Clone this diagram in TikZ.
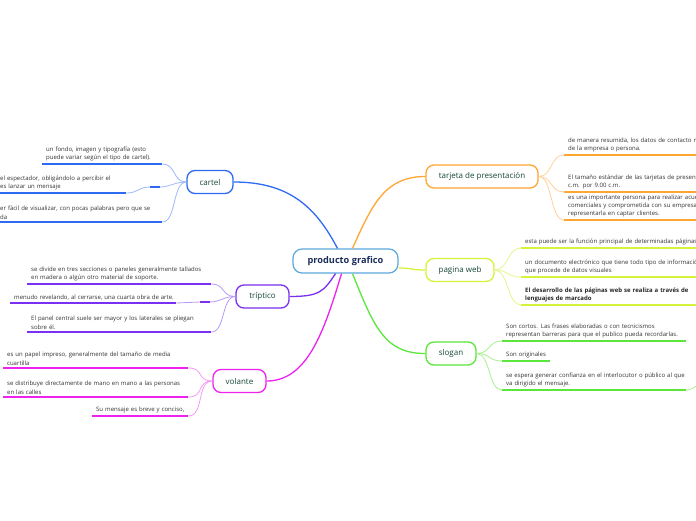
\documentclass[tikz,border=0pt]{standalone}
\usepackage{fontspec}
\setmainfont{Open Sans}
\usetikzlibrary{calc}
\definecolor{cblue}{HTML}{2F6BF2}
\definecolor{cbluel}{HTML}{9DB8FA}
\definecolor{cpurple}{HTML}{7B2FF2}
\definecolor{cpurplel}{HTML}{B79AF8}
\definecolor{cmag}{HTML}{EE22EE}
\definecolor{cmagl}{HTML}{F79AF5}
\definecolor{corange}{HTML}{FFA532}
\definecolor{corangel}{HTML}{FFD29A}
\definecolor{cyel}{HTML}{D6F23A}
\definecolor{cyell}{HTML}{E6F78F}
\definecolor{cgreen}{HTML}{5AE63A}
\definecolor{cgreenl}{HTML}{A8F08F}
\definecolor{ccenter}{HTML}{5AA8DC}
\definecolor{ctext}{HTML}{1B2D5B}
\definecolor{btext}{HTML}{17473A}
\definecolor{ltext}{HTML}{333333}
\newcommand\nbx[1]{\mbox{#1}}
\tikzset{
 centerbox/.style={draw=ccenter, line width=1.2pt, fill=white, rounded corners=9pt, minimum width=105pt, minimum height=24pt, font=\fontsize{9.2}{10}\selectfont\bfseries, text=ctext},
 branch/.style={draw=#1, line width=1.3pt, fill=white, rounded corners=8pt, minimum height=23pt, font=\fontsize{8}{10}\selectfont, text=btext},
 leaf/.style={anchor=south west, align=left, font=\fontsize{6}{8.8}\selectfont, text=ltext, inner xsep=4pt, inner ysep=2.4pt},
 uline/.style={draw=#1, line width=1.8pt},
 mainc/.style={draw=#1, line width=1.3pt},
 subc/.style={draw=#1, line width=0.8pt},
}
\begin{document}
\begin{tikzpicture}[x=1pt,y=-1pt]
\useasboundingbox (0,0) rectangle (696,520);
\clip (0,0) rectangle (696,520);
\fill[white] (0,0) rectangle (696,520);

% ---------- nodes ----------
\node[centerbox] (c) at (345.5,261) {producto grafico};
\node[branch=cblue, minimum width=46pt] (cartel) at (210,182) {cartel};
\node[branch=cpurple, minimum width=53pt] (trip) at (262.5,296.5) {tríptico};
\node[branch=cmag, minimum width=53pt] (vol) at (239.5,381) {volante};
\node[branch=corange, minimum width=112pt] (tar) at (482,176.5) {tarjeta de presentación};
\node[branch=cyel, minimum width=68pt] (pag) at (460,270) {pagina web};
\node[branch=cgreen, minimum width=50pt] (slo) at (451,353.5) {slogan};

% ---------- main connectors ----------
\draw[mainc=cblue] (cartel.east) .. controls +(55,0) and +(-22,-42) .. ($(c.north)+(-8,0)$);
\draw[mainc=corange] ($(c.north)+(7,0)$) .. controls +(20,-45) and +(-40,0) .. (tar.west);
\draw[mainc=cyel] ($(c.east)+(0,7)$) .. controls +(14,0) and +(-14,0) .. (pag.west);
\draw[mainc=cpurple] ($(c.south)+(-10,0)$) .. controls +(-12,18) and +(30,0) .. (trip.east);
\draw[mainc=cmag] ($(c.south)+(-4,0)$) .. controls +(-18,60) and +(40,0) .. (vol.east);
\draw[mainc=cgreen] ($(c.south)+(7,0)$) .. controls +(22,55) and +(-40,0) .. (slo.west);

% ---------- cartel leaves ----------
\node[leaf, text width=112pt] (k1) at (42,164) {\nbx{un fondo, imagen y tipografía (esto}\\\nbx{puede variar según el tipo de cartel).}};
\node[leaf, text width=122pt] (k2) at (-4,193) {\nbx{el espectador, obligándolo a percibir el}\\\nbx{es lanzar un mensaje}};
\node[leaf, text width=158pt] (k3) at (-4,222) {\nbx{er fácil de visualizar, con pocas palabras pero que se}\\\nbx{da}};
\coordinate (k2a) at (150,187);
\coordinate (k2b) at (160,187);
\foreach \n in {k1,k2,k3} \draw[uline=cblue] (\n.south west) -- (\n.south east);
\draw[subc=cbluel] (cartel.west) .. controls +(-14,0) and +(14,0) .. (k1.south east);
\draw[subc=cbluel] (cartel.west) .. controls +(-12,0) and +(10,0) .. (k2b);
\draw[uline=cblue] (k2a) -- (k2b);
\draw[subc=cbluel] (k2a) .. controls +(-12,0) and +(12,0) .. (k2.south east);
\draw[subc=cbluel] (cartel.west) .. controls +(-14,0) and +(14,0) .. (k3.south east);

% ---------- triptico leaves ----------
\node[leaf, text width=176pt] (t1) at (27,284) {\nbx{se divide en tres secciones o paneles generalmente tallados}\\\nbx{en madera o algún otro material de soporte.}};
\node[leaf, text width=158pt] (t2) at (10,303) {\nbx{menudo revelando, al cerrarse, una cuarta obra de arte.}};
\node[leaf, text width=176pt] (t3) at (27,332) {\nbx{El panel central suele ser mayor y los laterales se pliegan}\\\nbx{sobre él.}};
\coordinate (t2a) at (200,302);
\coordinate (t2b) at (210,302);
\foreach \n in {t1,t2,t3} \draw[uline=cpurple] (\n.south west) -- (\n.south east);
\draw[subc=cpurplel] (trip.west) .. controls +(-14,0) and +(14,0) .. (t1.south east);
\draw[subc=cpurplel] (trip.west) .. controls +(-12,0) and +(10,0) .. (t2b);
\draw[uline=cpurple] (t2a) -- (t2b);
\draw[subc=cpurplel] (t2a) .. controls +(-12,0) and +(12,0) .. (t2.south east);
\draw[subc=cpurplel] (trip.west) .. controls +(-14,0) and +(14,0) .. (t3.south east);

% ---------- volante leaves ----------
\node[leaf, text width=177pt] (v1) at (3,368) {\nbx{es un papel impreso, generalmente del tamaño de media}\\\nbx{cuartilla}};
\node[leaf, text width=177pt] (v2) at (3,397) {\nbx{se distribuye directamente de mano en mano a las personas}\\\nbx{en las calles}};
\node[leaf, text width=88pt] (v3) at (92,416) {\nbx{Su mensaje es breve y conciso,}};
\foreach \n in {v1,v2,v3} \draw[uline=cmag] (\n.south west) -- (\n.south east);
\foreach \n in {v1,v2,v3} \draw[subc=cmagl] (vol.west) .. controls +(-16,0) and +(16,0) .. (\n.south east);

% ---------- tarjeta leaves ----------
\node[leaf, text width=200pt] (j1) at (564,155) {\nbx{de manera resumida, los datos de contacto m}\\\nbx{de la empresa o persona.}};
\node[leaf, text width=200pt] (j2) at (564,192) {\nbx{El tamaño estándar de las tarjetas de present}\\\nbx{c.m. por 9.00 c.m.}};
\node[leaf, text width=200pt, font=\fontsize{6}{8.4}\selectfont] (j3) at (564,220) {\nbx{es una importante persona para realizar acue}\\\nbx{comerciales y comprometida con su empresa}\\\nbx{representarla en captar clientes.}};
\foreach \n in {j1,j2,j3} \draw[uline=corange] (\n.south west) -- (\n.south east);
\foreach \n in {j1,j2,j3} \draw[subc=corangel] (tar.east) .. controls +(14,0) and +(-14,0) .. (\n.south west);

% ---------- pagina web leaves ----------
\node[leaf, text width=200pt] (p1) at (521,248) {\nbx{esta puede ser la función principal de determinadas páginas}};
\node[leaf, text width=200pt] (p2) at (521,277) {\nbx{un documento electrónico que tiene todo tipo de información}\\\nbx{que procede de datos visuales}};
\node[leaf, text width=200pt, font=\fontsize{6}{8.8}\selectfont\bfseries, text=black!85] (p3) at (521,305) {\nbx{El desarrollo de las páginas web se realiza a través de}\\\nbx{lenguajes de marcado}};
\foreach \n in {p1,p2,p3} \draw[uline=cyel] (\n.south west) -- (\n.south east);
\foreach \n in {p1,p2,p3} \draw[subc=cyell] (pag.east) .. controls +(14,0) and +(-14,0) .. (\n.south west);

% ---------- slogan leaves ----------
\node[leaf, text width=176pt] (s1) at (502,341) {\nbx{Son cortos. Las frases elaboradas o con tecnicismos}\\\nbx{representan barreras para que el publico pueda recordarlas.}};
\node[leaf, text width=40pt] (s2) at (502,361) {\nbx{Son originales}};
\node[leaf, text width=176pt] (s3) at (502,390) {\nbx{se espera generar confianza en el interlocutor o público al que}\\\nbx{va dirigido el mensaje.}};
\foreach \n in {s1,s2,s3} \draw[uline=cgreen] (\n.south west) -- (\n.south east);
\foreach \n in {s1,s2,s3} \draw[subc=cgreenl] (slo.east) .. controls +(14,0) and +(-14,0) .. (\n.south west);
\coordinate (s3t) at (698,385);
\draw[subc=cgreenl] (s3.south east) .. controls +(5,0) and +(-4,2) .. (s3t);
\end{tikzpicture}
\end{document}
